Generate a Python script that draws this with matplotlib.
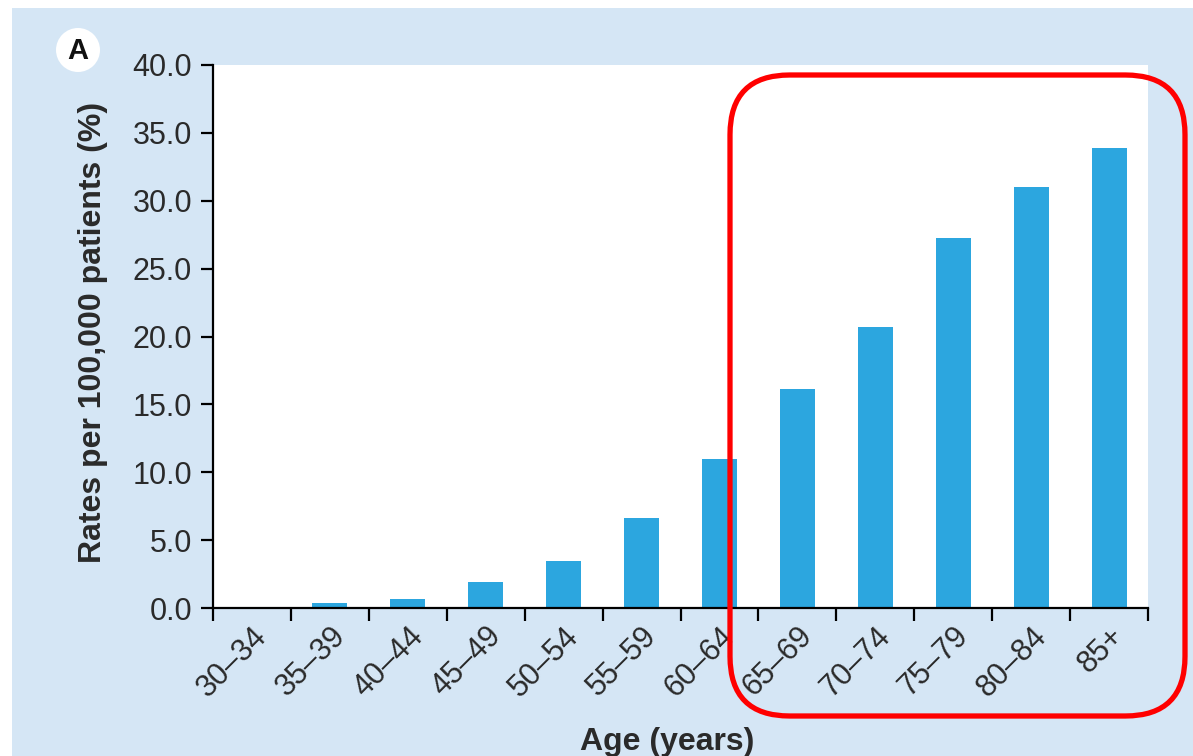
import matplotlib.pyplot as plt
from matplotlib.patches import FancyBboxPatch, Rectangle, Ellipse

age_groups = ["30–34", "35–39", "40–44", "45–49", "50–54", "55–59",
              "60–64", "65–69", "70–74", "75–79", "80–84", "85+"]
rates = [0.0, 0.35, 0.65, 1.9, 3.45, 6.6, 11.0, 16.1, 20.7, 27.25, 31.0, 33.85]
y_ticks = [0, 5, 10, 15, 20, 25, 30, 35, 40]

W, H = 1193, 756
bg_blue = "#d5e6f5"
bar_blue = "#2ca6df"

plt.rcParams['font.family'] = ['Liberation Sans', 'DejaVu Sans']

fig = plt.figure(figsize=(W / 100, H / 100), dpi=100, facecolor="white")

# light blue panel
fig.patches.append(Rectangle((12 / W, 0), 1, 1 - 8 / H, transform=fig.transFigure,
                             facecolor=bg_blue, edgecolor="none", zorder=-5))

ax = fig.add_axes([213 / W, 148 / H, 935 / W, 543 / H])
ax.set_facecolor("white")

x = list(range(len(age_groups)))
ax.bar([i + 0.5 for i in x], rates, width=0.45, color=bar_blue, zorder=2)

ax.set_xlim(0, len(age_groups))
ax.set_ylim(0, 40)
ax.set_xticks(range(len(age_groups) + 1))
ax.set_xticklabels([])
ax.set_yticks(y_ticks)
ax.set_yticklabels([f"{v:.1f}" for v in y_ticks], fontsize=22, color="#2a2a2a")

for i, lab in enumerate(age_groups):
    ax.text(i + 0.64, -1.75, lab, rotation=45, rotation_mode="anchor",
            ha="right", va="center", fontsize=22, color="#2a2a2a", clip_on=False)

for s in ["top", "right"]:
    ax.spines[s].set_visible(False)
for s in ["left", "bottom"]:
    ax.spines[s].set_linewidth(1.6)
ax.tick_params(axis="both", direction="out", length=9, width=1.6, colors="black")
ax.tick_params(axis="y", labelcolor="#2a2a2a", pad=6)

fig.text(93 / W, 1 - 332 / H, "Rates per 100,000 patients (%)", rotation=90,
         ha="center", va="center", fontsize=23, fontweight="bold", color="#2a2a2a")
fig.text(667 / W, 1 - 742 / H, "Age (years)", ha="center", va="center",
         fontsize=23, fontweight="bold", color="#2a2a2a")

# panel letter
fig.patches.append(Ellipse((78 / W, 1 - 50 / H), 44 / W, 44 / H, transform=fig.transFigure,
                           facecolor="white", edgecolor="none", zorder=3))
fig.text(78 / W, 1 - 51 / H, "A", ha="center", va="center", fontsize=21,
         fontweight="bold", color="#111111", zorder=4)

# red highlight box
fig.patches.append(FancyBboxPatch((730 / W, 1 - 716 / H), 455 / W, 641 / H,
                                  boxstyle="round,pad=0,rounding_size=0.05",
                                  mutation_aspect=W / H,
                                  transform=fig.transFigure, facecolor="none",
                                  edgecolor="#ff0000", linewidth=3.8, zorder=5))

fig.savefig("out.png", dpi=100, facecolor=fig.get_facecolor())
